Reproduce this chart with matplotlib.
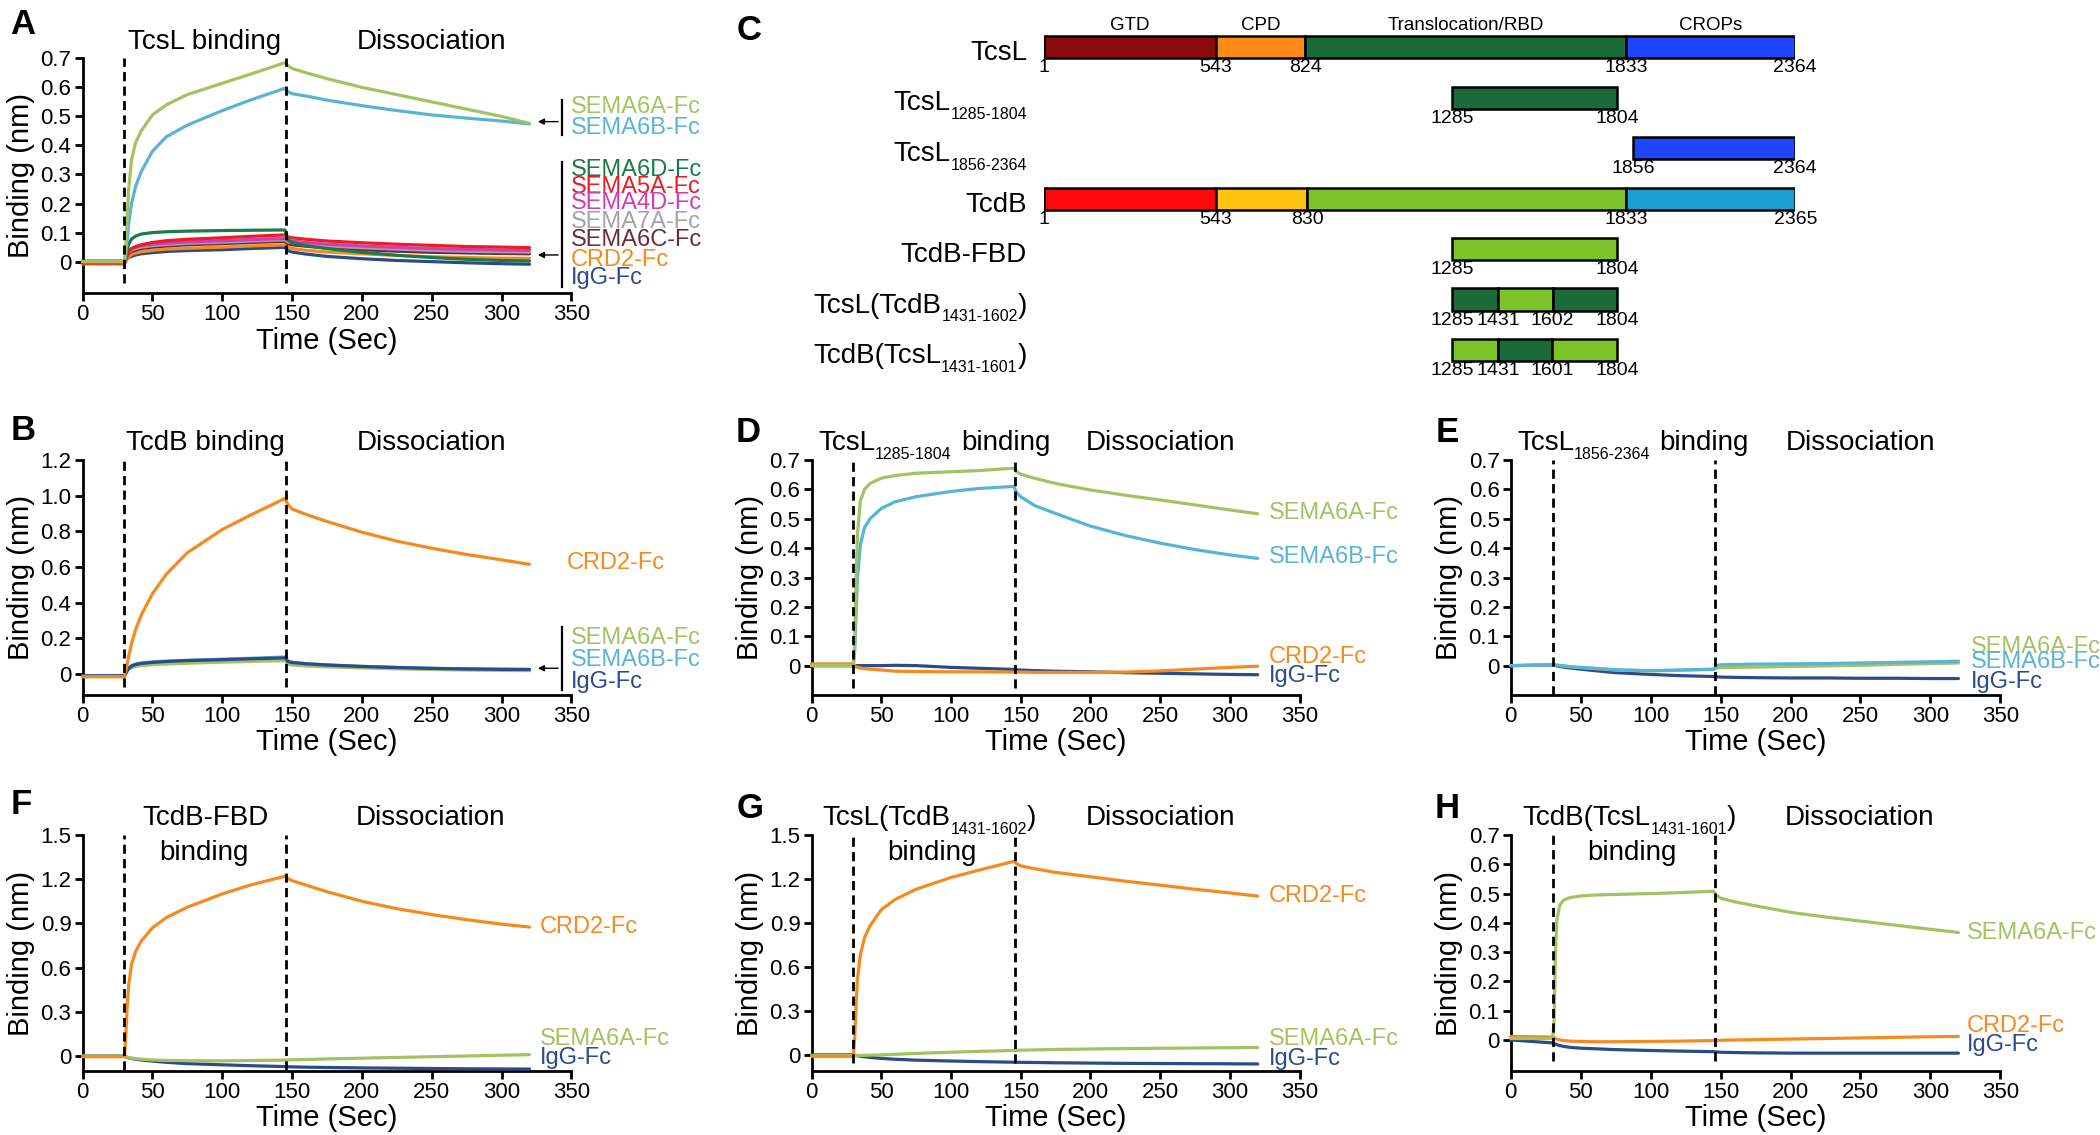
import matplotlib
matplotlib.use("Agg")
import matplotlib.pyplot as plt

plt.rcParams['font.family'] = ['Liberation Sans', 'DejaVu Sans']

# ====================== DATA ======================
time_s = [0, 30, 31, 32, 33, 35, 38, 42, 50, 60, 75, 100, 120, 145, 147, 150,
          160, 175, 200, 225, 250, 275, 300, 320]
phase_marks_s = [30, 146]
x_ticks = [0, 50, 100, 150, 200, 250, 300, 350]
y_ticks_07 = [0, 0.1, 0.2, 0.3, 0.4, 0.5, 0.6, 0.7]
y_ticks_12 = [0, 0.2, 0.4, 0.6, 0.8, 1.0, 1.2]
y_ticks_15 = [0, 0.3, 0.6, 0.9, 1.2, 1.5]

# Panel A : TcsL binding
a_sema6a = [0, 0, 0.06, 0.16, 0.25, 0.35, 0.41, 0.45, 0.505, 0.54, 0.575, 0.614, 0.645, 0.685,
            0.675, 0.665, 0.65, 0.63, 0.60, 0.575, 0.55, 0.525, 0.50, 0.476]
a_sema6b = [0, 0, 0.03, 0.08, 0.13, 0.20, 0.26, 0.31, 0.38, 0.43, 0.47, 0.52, 0.556, 0.597,
            0.585, 0.578, 0.57, 0.556, 0.537, 0.52, 0.505, 0.494, 0.484, 0.474]
a_sema6d = [0.002, 0.002, 0.02, 0.045, 0.06, 0.078, 0.088, 0.095, 0.10, 0.103, 0.105, 0.107, 0.108, 0.109,
            0.075, 0.065, 0.055, 0.045, 0.032, 0.022, 0.014, 0.008, 0.004, 0.002]
a_sema5a = [-0.005, -0.005, 0.01, 0.025, 0.035, 0.045, 0.052, 0.058, 0.066, 0.072, 0.077, 0.082, 0.087, 0.092,
            0.085, 0.082, 0.077, 0.071, 0.065, 0.06, 0.056, 0.052, 0.05, 0.048]
a_sema4d = [0, 0, 0.015, 0.03, 0.038, 0.045, 0.05, 0.055, 0.06, 0.064, 0.068, 0.072, 0.076, 0.08,
            0.074, 0.071, 0.066, 0.06, 0.054, 0.049, 0.045, 0.042, 0.04, 0.039]
a_sema7a = [0, 0, 0.012, 0.025, 0.032, 0.04, 0.045, 0.05, 0.055, 0.059, 0.063, 0.067, 0.071, 0.075,
            0.068, 0.065, 0.06, 0.054, 0.048, 0.043, 0.039, 0.036, 0.034, 0.033]
a_sema6c = [0, 0, 0.01, 0.02, 0.028, 0.035, 0.04, 0.045, 0.05, 0.054, 0.058, 0.062, 0.066, 0.07,
            0.062, 0.058, 0.053, 0.047, 0.041, 0.036, 0.032, 0.03, 0.028, 0.027]
a_crd2 = [-0.008, -0.008, 0.0, 0.01, 0.017, 0.025, 0.03, 0.034, 0.039, 0.043, 0.046, 0.05, 0.054, 0.058,
          0.05, 0.045, 0.039, 0.033, 0.027, 0.021, 0.017, 0.014, 0.012, 0.011]
a_igg = [0, 0, 0.005, 0.01, 0.014, 0.018, 0.023, 0.027, 0.031, 0.035, 0.038, 0.041, 0.045, 0.049,
         0.038, 0.033, 0.026, 0.018, 0.01, 0.004, 0.0, -0.004, -0.007, -0.009]

# Panel B : TcdB binding
b_crd2 = [-0.015, -0.015, 0.02, 0.06, 0.10, 0.17, 0.25, 0.33, 0.45, 0.56, 0.68, 0.81, 0.89, 0.985,
          0.95, 0.925, 0.895, 0.855, 0.795, 0.745, 0.705, 0.67, 0.64, 0.615]
b_sema6a = [-0.015, -0.015, 0.0, 0.015, 0.025, 0.035, 0.042, 0.047, 0.052, 0.056, 0.06, 0.066, 0.07, 0.075,
            0.055, 0.05, 0.045, 0.04, 0.034, 0.029, 0.025, 0.022, 0.02, 0.019]
b_sema6b = [-0.012, -0.012, 0.005, 0.022, 0.035, 0.047, 0.056, 0.062, 0.068, 0.072, 0.077, 0.083, 0.088, 0.095,
            0.072, 0.066, 0.058, 0.051, 0.043, 0.037, 0.032, 0.029, 0.027, 0.026]
b_igg = [-0.01, -0.01, 0.004, 0.02, 0.032, 0.044, 0.053, 0.059, 0.065, 0.07, 0.075, 0.08, 0.085, 0.09,
         0.07, 0.064, 0.057, 0.05, 0.042, 0.036, 0.031, 0.028, 0.026, 0.025]

# Panel D : TcsL 1285-1804 binding
d_sema6a = [0, 0, 0.08, 0.30, 0.45, 0.56, 0.60, 0.62, 0.638, 0.647, 0.655, 0.66, 0.664, 0.672,
            0.66, 0.652, 0.638, 0.62, 0.598, 0.58, 0.564, 0.547, 0.53, 0.517]
d_sema6b = [0, 0, 0.05, 0.18, 0.30, 0.41, 0.47, 0.50, 0.535, 0.558, 0.575, 0.593, 0.603, 0.61,
            0.59, 0.575, 0.545, 0.518, 0.475, 0.443, 0.417, 0.395, 0.377, 0.365]
d_crd2 = [0.006, 0.006, 0.0, -0.004, -0.006, -0.008, -0.01, -0.012, -0.015, -0.019, -0.02, -0.021, -0.021, -0.022,
          -0.022, -0.022, -0.023, -0.023, -0.023, -0.022, -0.018, -0.012, -0.006, -0.002]
d_igg = [0, 0, 0, 0, 0, 0, 0, 0, 0, 0.001, 0, -0.006, -0.009, -0.013,
         -0.014, -0.015, -0.017, -0.019, -0.021, -0.024, -0.026, -0.028, -0.03, -0.031]

# Panel E : TcsL 1856-2364 binding
e_sema6a = [0, 0.002, 0.002, 0.002, 0.001, 0.0, -0.002, -0.004, -0.007, -0.01, -0.015, -0.018, -0.016, -0.013,
            -0.008, -0.007, -0.006, -0.005, -0.003, -0.001, 0.001, 0.004, 0.007, 0.009]
e_sema6b = [0, 0.003, 0.003, 0.002, 0.002, 0.001, -0.001, -0.003, -0.006, -0.009, -0.014, -0.017, -0.015, -0.012,
            0.0, 0.003, 0.004, 0.005, 0.006, 0.007, 0.009, 0.011, 0.013, 0.015]
e_igg = [0, 0.002, 0.001, 0.0, -0.001, -0.003, -0.005, -0.008, -0.012, -0.017, -0.024, -0.03, -0.034, -0.037,
         -0.038, -0.039, -0.04, -0.041, -0.042, -0.042, -0.043, -0.043, -0.044, -0.044]

# Panel F : TcdB-FBD binding
f_crd2 = [-0.005, -0.005, 0.15, 0.35, 0.48, 0.62, 0.71, 0.78, 0.87, 0.94, 1.01, 1.10, 1.16, 1.22,
          1.205, 1.19, 1.16, 1.115, 1.05, 1.0, 0.96, 0.925, 0.895, 0.875]
f_sema6a = [0, 0, -0.005, -0.008, -0.01, -0.014, -0.018, -0.022, -0.027, -0.03, -0.032, -0.033, -0.031, -0.028,
            -0.027, -0.026, -0.024, -0.02, -0.015, -0.01, -0.005, 0.0, 0.005, 0.009]
f_igg = [0, 0, -0.006, -0.01, -0.013, -0.017, -0.022, -0.027, -0.035, -0.043, -0.052, -0.06, -0.066, -0.072,
         -0.073, -0.074, -0.076, -0.078, -0.081, -0.083, -0.085, -0.087, -0.088, -0.089]

# Panel G : TcsL(TcdB 1431-1602) binding
g_crd2 = [-0.01, -0.01, 0.12, 0.35, 0.52, 0.68, 0.80, 0.88, 0.99, 1.06, 1.13, 1.21, 1.26, 1.32,
          1.305, 1.29, 1.27, 1.245, 1.215, 1.185, 1.158, 1.13, 1.105, 1.083]
g_sema6a = [-0.005, -0.005, -0.004, -0.004, -0.004, -0.004, -0.003, -0.002, 0.0, 0.004, 0.01, 0.018, 0.024, 0.03,
            0.031, 0.032, 0.034, 0.037, 0.04, 0.043, 0.045, 0.047, 0.049, 0.05]
g_igg = [0, 0, -0.002, -0.004, -0.006, -0.009, -0.013, -0.017, -0.024, -0.03, -0.036, -0.042, -0.046, -0.05,
         -0.05, -0.051, -0.052, -0.054, -0.056, -0.058, -0.059, -0.06, -0.061, -0.062]

# Panel H : TcdB(TcsL 1431-1601) binding
h_sema6a = [0.005, 0.005, 0.06, 0.30, 0.41, 0.46, 0.478, 0.486, 0.492, 0.495, 0.497, 0.50, 0.503, 0.508,
            0.495, 0.484, 0.472, 0.458, 0.436, 0.42, 0.406, 0.392, 0.378, 0.367]
h_crd2 = [0.012, 0.01, 0.008, 0.005, 0.003, 0.0, -0.002, -0.004, -0.005, -0.006, -0.006, -0.005, -0.004, -0.002,
          -0.002, -0.001, 0.0, 0.001, 0.003, 0.005, 0.007, 0.009, 0.011, 0.012]
h_igg = [0, -0.01, -0.012, -0.014, -0.016, -0.019, -0.022, -0.025, -0.028, -0.03, -0.033, -0.036, -0.038, -0.04,
         -0.041, -0.042, -0.043, -0.044, -0.045, -0.045, -0.045, -0.045, -0.045, -0.045]

# Panel C : domain schematic (amino-acid boundaries)
c_rows = ['TcsL', 'TcsL1285', 'TcsL1856', 'TcdB', 'TcdB-FBD', 'TcsL(TcdB)', 'TcdB(TcsL)']
c_segments = [
    [(1, 543, 'L_gtd'), (543, 824, 'L_cpd'), (824, 1833, 'L_trb'), (1833, 2364, 'L_crop')],
    [(1285, 1804, 'L_trb')],
    [(1856, 2364, 'L_crop')],
    [(1, 543, 'B_gtd'), (543, 830, 'B_cpd'), (830, 1833, 'B_trb'), (1833, 2365, 'B_crop')],
    [(1285, 1804, 'B_trb')],
    [(1285, 1431, 'L_trb'), (1431, 1602, 'B_trb'), (1602, 1804, 'L_trb')],
    [(1285, 1431, 'B_trb'), (1431, 1601, 'L_trb'), (1601, 1804, 'B_trb')],
]
c_domain_names = ['GTD', 'CPD', 'Translocation/RBD', 'CROPs']
c_row_labels = [
    [('TcsL', 'm')],
    [('TcsL', 'm'), ('1285-1804', 's')],
    [('TcsL', 'm'), ('1856-2364', 's')],
    [('TcdB', 'm')],
    [('TcdB-FBD', 'm')],
    [('TcsL(TcdB', 'm'), ('1431-1602', 's'), (')', 'm')],
    [('TcdB(TcsL', 'm'), ('1431-1601', 's'), (')', 'm')],
]

# ====================== STYLE / LAYOUT ======================
COLORS = {'SEMA6A-Fc': '#a5c262', 'SEMA6B-Fc': '#58b4d7', 'SEMA6D-Fc': '#1b7a47',
          'SEMA5A-Fc': '#ec1c24', 'SEMA4D-Fc': '#d13db3', 'SEMA7A-Fc': '#a3a3a3',
          'SEMA6C-Fc': '#6d2a3a', 'CRD2-Fc': '#f58a1f', 'IgG-Fc': '#2c4b87'}
DOMAIN_COLORS = {'L_gtd': '#8b0a0a', 'L_cpd': '#ff8a1a', 'L_trb': '#1b6b3a', 'L_crop': '#1f45ff',
                 'B_gtd': '#ff0a0a', 'B_cpd': '#ffc20e', 'B_trb': '#7dc42a', 'B_crop': '#1aa0d0'}

W, H = 2100, 1135
COLS = [(82.6, 571.4), (811.5, 1299.5), (1510.7, 2000.4)]
ROWS = [(58.3, 293.3), (460, 695), (835, 1071)]
TITLE_FS, SUB_FS, LABEL_FS, TICK_FS, AXLAB_FS = 20, 11.5, 17, 16, 21
DESC = 0.21
BASE = {0: 7.0, 1: -18.0}

fig = plt.figure(figsize=(W / 100, H / 100), dpi=100)


def rect(x0, x1, ytop, ybot):
    return [x0 / W, 1 - ybot / H, (x1 - x0) / W, (ybot - ytop) / H]


def fmt(v):
    return '0' if v == 0 else f'{v:.1f}'


def chain(ax, xy, xycoords, parts, base_pt, align='left', dx0=0):
    """parts: list of (text, size, rise_pt, gap_pt) left-to-right."""
    seq = parts if align == 'left' else list(reversed(parts))
    prev = None
    for s, size, rise, gap in seq:
        if prev is None:
            t = ax.annotate(s, xy=xy, xycoords=xycoords, xytext=(dx0, base_pt + rise),
                            textcoords='offset points', ha=align, va='baseline',
                            fontsize=size, annotation_clip=False)
        else:
            psize, prise, pgap = prev[1], prev[2], prev[3]
            if align == 'left':
                t = ax.annotate(s, xy=(1, 0), xycoords=prev[0],
                                xytext=(gap, DESC * psize + rise - prise),
                                textcoords='offset points', ha='left', va='baseline',
                                fontsize=size, annotation_clip=False)
            else:
                t = ax.annotate(s, xy=(0, 0), xycoords=prev[0],
                                xytext=(-pgap, DESC * psize + rise - prise),
                                textcoords='offset points', ha='right', va='baseline',
                                fontsize=size, annotation_clip=False)
        prev = (t, size, rise, gap)


def sub_parts(main, sub, tail=None, gap=0):
    p = [(main, TITLE_FS, 0, 0), (sub, SUB_FS, -6, 0)]
    if tail is not None:
        p.append((tail, TITLE_FS, 0, gap))
    return p


panels = [
    dict(letter='A', col=0, row=0, ylim=(-0.109, 0.7), yticks=y_ticks_07, dash_lo=0.042,
         series=[('IgG-Fc', a_igg), ('CRD2-Fc', a_crd2), ('SEMA6C-Fc', a_sema6c), ('SEMA7A-Fc', a_sema7a),
                 ('SEMA4D-Fc', a_sema4d), ('SEMA5A-Fc', a_sema5a), ('SEMA6D-Fc', a_sema6d),
                 ('SEMA6B-Fc', a_sema6b), ('SEMA6A-Fc', a_sema6a)],
         labels=[('SEMA6A-Fc', 349.5, 0.533), ('SEMA6B-Fc', 349.5, 0.459), ('SEMA6D-Fc', 349.5, 0.316),
                 ('SEMA5A-Fc', 349.5, 0.258), ('SEMA4D-Fc', 349.5, 0.201), ('SEMA7A-Fc', 349.5, 0.138),
                 ('SEMA6C-Fc', 349.5, 0.075), ('CRD2-Fc', 349.5, 0.006), ('IgG-Fc', 349.5, -0.057)],
         brackets=[(343.6, 0.436, 0.556, 0.482), (343.6, -0.086, 0.344, 0.023)],
         titles=[('c', 87.5, 0, 'TcsL binding'), ('c', 249.5, 0, 'Dissociation')]),
    dict(letter='B', col=0, row=1, ylim=(-0.118, 1.2), yticks=y_ticks_12, dash_lo=0.033,
         series=[('SEMA6A-Fc', b_sema6a), ('SEMA6B-Fc', b_sema6b), ('IgG-Fc', b_igg), ('CRD2-Fc', b_crd2)],
         labels=[('CRD2-Fc', 347, 0.62), ('SEMA6A-Fc', 349.5, 0.2), ('SEMA6B-Fc', 349.5, 0.078),
                 ('IgG-Fc', 349.5, -0.043)],
         brackets=[(343.6, -0.09, 0.265, 0.032)],
         titles=[('c', 87.9, 0, 'TcdB binding'), ('c', 249.5, 0, 'Dissociation')]),
    dict(letter='D', col=1, row=1, ylim=(-0.1, 0.7), yticks=y_ticks_07, dash_lo=0.031,
         series=[('IgG-Fc', d_igg), ('CRD2-Fc', d_crd2), ('SEMA6B-Fc', d_sema6b), ('SEMA6A-Fc', d_sema6a)],
         labels=[('SEMA6A-Fc', 328, 0.519), ('SEMA6B-Fc', 328, 0.371), ('CRD2-Fc', 328, 0.031),
                 ('IgG-Fc', 328, -0.035)],
         brackets=[],
         titles=[('k', 4.7, 0, sub_parts('TcsL', '1285-1804', 'binding', 6.5)),
                 ('c', 250, 0, 'Dissociation')]),
    dict(letter='E', col=2, row=1, ylim=(-0.1, 0.7), yticks=y_ticks_07, dash_lo=0.0,
         series=[('IgG-Fc', e_igg), ('SEMA6A-Fc', e_sema6a), ('SEMA6B-Fc', e_sema6b)],
         labels=[('SEMA6A-Fc', 329, 0.065), ('SEMA6B-Fc', 329, 0.014), ('IgG-Fc', 329, -0.055)],
         brackets=[],
         titles=[('k', 4.5, 0, sub_parts('TcsL', '1856-2364', 'binding', 6.5)),
                 ('c', 249.7, 0, 'Dissociation')]),
    dict(letter='F', col=0, row=2, ylim=(-0.102, 1.5), yticks=y_ticks_15, dash_lo=0.004,
         series=[('IgG-Fc', f_igg), ('SEMA6A-Fc', f_sema6a), ('CRD2-Fc', f_crd2)],
         labels=[('CRD2-Fc', 327.5, 0.875), ('SEMA6A-Fc', 327.5, 0.114), ('IgG-Fc', 327.5, -0.016)],
         brackets=[],
         titles=[('c', 87.9, 0, 'TcdB-FBD'), ('c', 87.0, 1, 'binding'), ('c', 249, 0, 'Dissociation')]),
    dict(letter='G', col=1, row=2, ylim=(-0.11, 1.5), yticks=y_ticks_15, dash_lo=0.033,
         series=[('IgG-Fc', g_igg), ('SEMA6A-Fc', g_sema6a), ('CRD2-Fc', g_crd2)],
         labels=[('CRD2-Fc', 328, 1.087), ('SEMA6A-Fc', 328, 0.109), ('IgG-Fc', 328, -0.027)],
         brackets=[],
         titles=[('k', 8.0, 0, sub_parts('TcsL(TcdB', '1431-1602', ')')),
                 ('c', 86.5, 1, 'binding'), ('c', 250, 0, 'Dissociation')]),
    dict(letter='H', col=2, row=2, ylim=(-0.106, 0.7), yticks=y_ticks_07, dash_lo=0.042,
         series=[('IgG-Fc', h_igg), ('CRD2-Fc', h_crd2), ('SEMA6A-Fc', h_sema6a)],
         labels=[('SEMA6A-Fc', 326, 0.367), ('CRD2-Fc', 326, 0.048), ('IgG-Fc', 326, -0.018)],
         brackets=[],
         titles=[('k', 8.6, 0, sub_parts('TcdB(TcsL', '1431-1601', ')')),
                 ('c', 86.7, 1, 'binding'), ('c', 249.6, 0, 'Dissociation')]),
]

LETTER_POS = {'A': (23, 25), 'B': (23, 430), 'C': (749, 31), 'D': (748, 432), 'E': (1447, 433),
              'F': (21, 805), 'G': (750, 808), 'H': (1447, 808)}

for p in panels:
    x0, x1 = COLS[p['col']]
    yt, yb = ROWS[p['row']]
    ax = fig.add_axes(rect(x0, x1, yt, yb))
    ax.patch.set_alpha(0)
    for name, vals in p['series']:
        ax.plot(time_s, vals, color=COLORS[name], lw=2.3, solid_joinstyle='round',
                solid_capstyle='round', clip_on=False, zorder=3)
    for tm in phase_marks_s:
        ax.axvline(tm, ymin=p['dash_lo'], ymax=1, color='black', lw=2.0,
                   linestyle=(0, (3.3, 1.9)), zorder=4)
    ax.set_xlim(0, 350)
    ax.set_ylim(*p['ylim'])
    for s in ['top', 'right']:
        ax.spines[s].set_visible(False)
    for s in ['left', 'bottom']:
        ax.spines[s].set_linewidth(2.0)
    ax.set_xticks(x_ticks)
    ax.set_yticks(p['yticks'])
    ax.set_yticklabels([fmt(v) for v in p['yticks']])
    ax.tick_params(direction='out', length=6, width=2, labelsize=TICK_FS, pad=2)
    ax.set_xlabel('Time (Sec)', fontsize=AXLAB_FS, labelpad=1)
    ax.set_ylabel('Binding (nm)', fontsize=AXLAB_FS, labelpad=4)
    for name, tx, ty in p['labels']:
        ax.text(tx, ty, name, color=COLORS[name], fontsize=LABEL_FS, ha='left', va='center',
                clip_on=False)
    for bt, lo, hi, av in p['brackets']:
        ax.plot([bt, bt], [lo, hi], color='black', lw=1.6, clip_on=False)
        ax.annotate('', xy=(326, av), xytext=(340.5, av),
                    arrowprops=dict(arrowstyle='-|>', color='black', lw=1.0, mutation_scale=9,
                                    shrinkA=0, shrinkB=0), annotation_clip=False)
    for kind, tx, line, content in p['titles']:
        if kind == 'c':
            ax.annotate(content, xy=(tx, 1), xycoords=('data', 'axes fraction'),
                        xytext=(0, BASE[line]), textcoords='offset points', ha='center',
                        va='baseline', fontsize=TITLE_FS, annotation_clip=False)
        else:
            chain(ax, (tx, 1), ('data', 'axes fraction'), content, BASE[line], align='left')

# ---------------- Panel C ----------------
axc = fig.add_axes(rect(1043.7, 1795.3, 0, 400))
axc.set_xlim(1, 2365)
axc.set_ylim(6.99, -0.931)
axc.axis('off')
BAR_H = 0.436
for i, segs in enumerate(c_segments):
    for s, e, key in segs:
        axc.barh(i, e - s, left=s, height=BAR_H, color=DOMAIN_COLORS[key],
                 edgecolor='black', linewidth=1.8, zorder=2)
    bounds = sorted(set([s for s, _, _ in segs] + [e for _, e, _ in segs]))
    for b in bounds:
        axc.annotate(str(b), xy=(b, i + BAR_H / 2), xycoords='data', xytext=(0, -1),
                     textcoords='offset points', ha='center', va='top', fontsize=14,
                     annotation_clip=False)
    parts = [(txt, TITLE_FS if kind == 'm' else SUB_FS, 0 if kind == 'm' else -6, 0)
             for txt, kind in c_row_labels[i]]
    chain(axc, (1, i), 'data', parts, -9.5, align='right', dx0=-12)

for (s, e, _), name in zip(c_segments[0], c_domain_names):
    axc.annotate(name, xy=((s + e) / 2, -BAR_H / 2), xycoords='data', xytext=(0, 4.3),
                 textcoords='offset points', ha='center', va='baseline', fontsize=13.5,
                 annotation_clip=False)

for letter, (lx, ly) in LETTER_POS.items():
    fig.text(lx / W, 1 - ly / H, letter, fontsize=25, fontweight='bold', ha='center', va='center')

fig.savefig('out.png', dpi=100)
